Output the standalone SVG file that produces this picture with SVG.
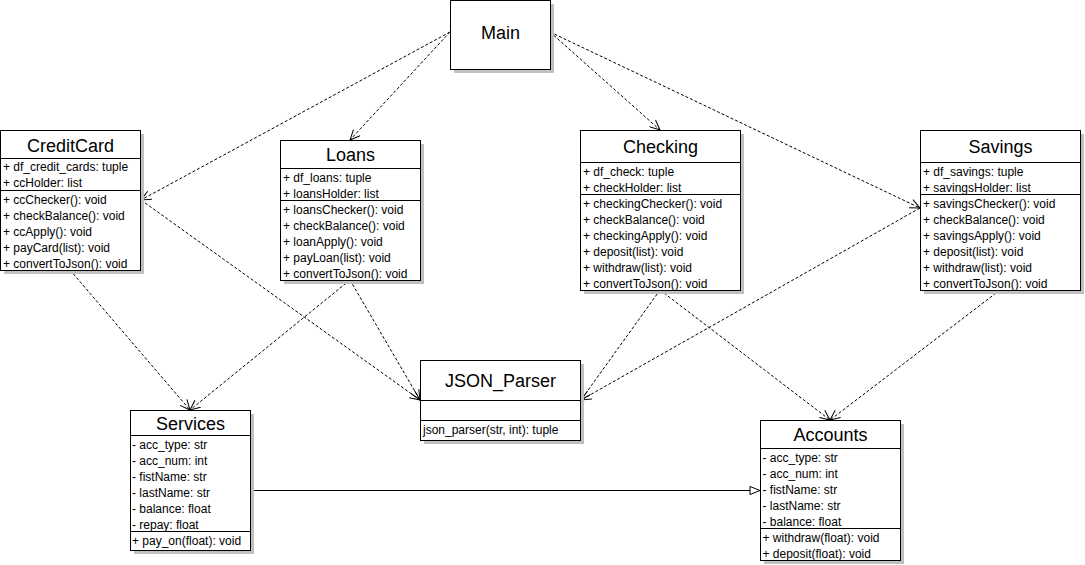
<svg xmlns="http://www.w3.org/2000/svg" width="1085" height="565" viewBox="0 0 1085 565">
<defs>
<style>
.box{fill:#fff;stroke:#000;stroke-width:1}
.sh{fill:#c0c0c0;stroke:none}
.div{stroke:#000;stroke-width:1}
.t{font-family:"Liberation Sans",Arial,sans-serif;font-size:18px;fill:#000;text-anchor:middle}
.r{font-family:"Liberation Sans",Arial,sans-serif;font-size:12px;fill:#000}
.dep{fill:none;stroke:#000;stroke-width:1;stroke-dasharray:3,2}
.gen{fill:none;stroke:#000;stroke-width:1}
</style>
<marker id="open" viewBox="0 0 12 10" refX="11" refY="5" markerWidth="12" markerHeight="10" markerUnits="userSpaceOnUse" orient="auto">
<path d="M1,0.5 L11,5 L1,9.5" fill="none" stroke="#000" stroke-width="1"/>
</marker>
<marker id="tri" viewBox="0 0 12 10" refX="11" refY="5" markerWidth="12" markerHeight="10" markerUnits="userSpaceOnUse" orient="auto">
<path d="M1,1 L11,5 L1,9 Z" fill="#fff" stroke="#000" stroke-width="1"/>
</marker>
</defs>
<rect width="1085" height="565" fill="#fff"/>

<g id="connectors">
<path class="dep" d="M450,32 L141,200" marker-end="url(#open)"/>
<path class="dep" d="M450,32 L350,140" marker-end="url(#open)"/>
<path class="dep" d="M550,32 L660,130" marker-end="url(#open)"/>
<path class="dep" d="M550,32 L920,208" marker-end="url(#open)"/>
<path class="dep" d="M141,200 L420,400" marker-end="url(#open)"/>
<path class="dep" d="M70,270 L190,410" marker-end="url(#open)"/>
<path class="dep" d="M350,280 L190,410" marker-end="url(#open)"/>
<path class="dep" d="M350,280 L420,400" marker-end="url(#open)"/>
<path class="dep" d="M660,290 L581,400" marker-end="url(#open)"/>
<path class="dep" d="M660,290 L830,420" marker-end="url(#open)"/>
<path class="dep" d="M920,208 L581,400" marker-end="url(#open)"/>
<path class="dep" d="M1000,290 L830,420" marker-end="url(#open)"/>
<path class="gen" d="M251,490.5 L760,490.5" marker-end="url(#tri)"/>
</g>

<g id="Main">
<rect class="sh" x="454" y="4" width="100" height="69"/>
<rect class="box" x="450.5" y="0.5" width="100" height="69"/>
<text class="t" x="500.5" y="38.5">Main</text>
</g>

<g id="CreditCard">
<rect class="sh" x="4" y="134" width="140" height="140"/>
<rect class="box" x="0.5" y="130.5" width="140" height="140"/>
<line class="div" x1="0.5" y1="158.5" x2="140.5" y2="158.5"/>
<line class="div" x1="0.5" y1="190.5" x2="140.5" y2="190.5"/>
<text class="t" x="70.5" y="152">CreditCard</text>
<text class="r" x="3" y="171">+ df_credit_cards: tuple</text>
<text class="r" x="3" y="187">+ ccHolder: list</text>
<text class="r" x="3" y="203.5">+ ccChecker(): void</text>
<text class="r" x="3" y="219.5">+ checkBalance(): void</text>
<text class="r" x="3" y="235.5">+ ccApply(): void</text>
<text class="r" x="3" y="251.5">+ payCard(list): void</text>
<text class="r" x="3" y="267.5">+ convertToJson(): void</text>
</g>

<g id="Loans">
<rect class="sh" x="284" y="144" width="140" height="140"/>
<rect class="box" x="280.5" y="140.5" width="140" height="140"/>
<line class="div" x1="280.5" y1="168.5" x2="420.5" y2="168.5"/>
<line class="div" x1="280.5" y1="200.5" x2="420.5" y2="200.5"/>
<text class="t" x="350.5" y="161">Loans</text>
<text class="r" x="283" y="181.5">+ df_loans: tuple</text>
<text class="r" x="283" y="197.5">+ loansHolder: list</text>
<text class="r" x="283" y="213.5">+ loansChecker(): void</text>
<text class="r" x="283" y="229.5">+ checkBalance(): void</text>
<text class="r" x="283" y="245.5">+ loanApply(): void</text>
<text class="r" x="283" y="261.5">+ payLoan(list): void</text>
<text class="r" x="283" y="277.5">+ convertToJson(): void</text>
</g>

<g id="Checking">
<rect class="sh" x="584" y="134" width="160" height="160"/>
<rect class="box" x="580.5" y="130.5" width="160" height="160"/>
<line class="div" x1="580.5" y1="162.5" x2="740.5" y2="162.5"/>
<line class="div" x1="580.5" y1="194.5" x2="740.5" y2="194.5"/>
<text class="t" x="660.5" y="153">Checking</text>
<text class="r" x="583" y="175.5">+ df_check: tuple</text>
<text class="r" x="583" y="191.5">+ checkHolder: list</text>
<text class="r" x="583" y="207.5">+ checkingChecker(): void</text>
<text class="r" x="583" y="223.5">+ checkBalance(): void</text>
<text class="r" x="583" y="239.5">+ checkingApply(): void</text>
<text class="r" x="583" y="255.5">+ deposit(list): void</text>
<text class="r" x="583" y="271.5">+ withdraw(list): void</text>
<text class="r" x="583" y="287.5">+ convertToJson(): void</text>
</g>

<g id="Savings">
<rect class="sh" x="924" y="134" width="160" height="160"/>
<rect class="box" x="920.5" y="130.5" width="160" height="160"/>
<line class="div" x1="920.5" y1="162.5" x2="1080.5" y2="162.5"/>
<line class="div" x1="920.5" y1="194.5" x2="1080.5" y2="194.5"/>
<text class="t" x="1000.5" y="153">Savings</text>
<text class="r" x="923" y="175.5">+ df_savings: tuple</text>
<text class="r" x="923" y="191.5">+ savingsHolder: list</text>
<text class="r" x="923" y="207.5">+ savingsChecker(): void</text>
<text class="r" x="923" y="223.5">+ checkBalance(): void</text>
<text class="r" x="923" y="239.5">+ savingsApply(): void</text>
<text class="r" x="923" y="255.5">+ deposit(list): void</text>
<text class="r" x="923" y="271.5">+ withdraw(list): void</text>
<text class="r" x="923" y="287.5">+ convertToJson(): void</text>
</g>

<g id="JSON_Parser">
<rect class="sh" x="424" y="364" width="160" height="80"/>
<rect class="box" x="420.5" y="360.5" width="160" height="80"/>
<line class="div" x1="420.5" y1="400.5" x2="580.5" y2="400.5"/>
<line class="div" x1="420.5" y1="420.5" x2="580.5" y2="420.5"/>
<text class="t" x="500.5" y="387">JSON_Parser</text>
<text class="r" x="423" y="434">json_parser(str, int): tuple</text>
</g>

<g id="Services">
<rect class="sh" x="134" y="414" width="120" height="140"/>
<rect class="box" x="130.5" y="410.5" width="120" height="140"/>
<line class="div" x1="130.5" y1="435.5" x2="250.5" y2="435.5"/>
<line class="div" x1="130.5" y1="531.5" x2="250.5" y2="531.5"/>
<text class="t" x="190.5" y="430">Services</text>
<text class="r" x="132" y="448.5">- acc_type: str</text>
<text class="r" x="132" y="464.5">- acc_num: int</text>
<text class="r" x="132" y="480.5">- fistName: str</text>
<text class="r" x="132" y="496.5">- lastName: str</text>
<text class="r" x="132" y="512.5">- balance: float</text>
<text class="r" x="132" y="528.5">- repay: float</text>
<text class="r" x="132" y="545">+ pay_on(float): void</text>
</g>

<g id="Accounts">
<rect class="sh" x="764" y="424" width="140" height="140"/>
<rect class="box" x="760.5" y="420.5" width="140" height="140"/>
<line class="div" x1="760.5" y1="448.5" x2="900.5" y2="448.5"/>
<line class="div" x1="760.5" y1="528.5" x2="900.5" y2="528.5"/>
<text class="t" x="830.5" y="441">Accounts</text>
<text class="r" x="762.5" y="461.5">- acc_type: str</text>
<text class="r" x="762.5" y="477.5">- acc_num: int</text>
<text class="r" x="762.5" y="493.5">- fistName: str</text>
<text class="r" x="762.5" y="509.5">- lastName: str</text>
<text class="r" x="762.5" y="525.5">- balance: float</text>
<text class="r" x="762.5" y="541.5">+ withdraw(float): void</text>
<text class="r" x="762.5" y="557.5">+ deposit(float): void</text>
</g>
</svg>
